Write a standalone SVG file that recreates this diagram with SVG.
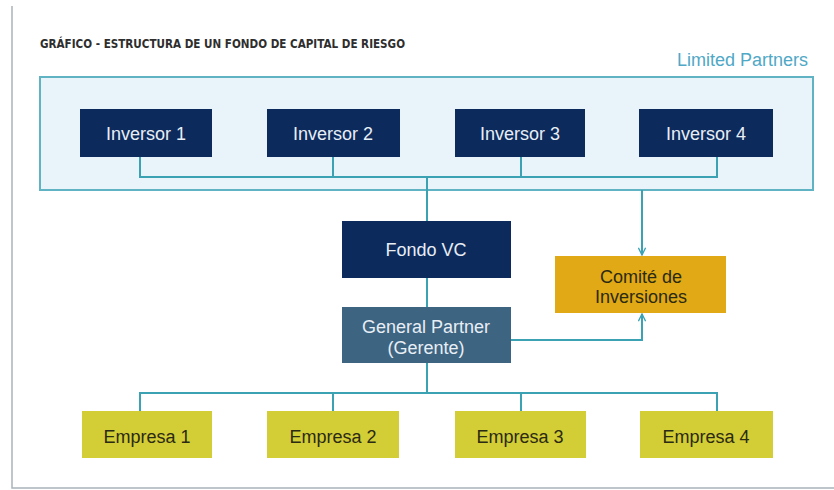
<svg xmlns="http://www.w3.org/2000/svg" width="834" height="490" viewBox="0 0 834 490">
<defs>
<style>
text{font-family:"Liberation Sans",Arial,sans-serif;font-size:18px;text-anchor:middle}
.navy{fill:#0c2b5c}
.gp{fill:#3d6481}
.com{fill:#e0a915}
.emp{fill:#d3cd36}
.wt{fill:#e8eef6}
.dk{fill:#2b2a12}
.conn{fill:none;stroke:#3ba2b4;stroke-width:2}
</style>
<marker id="arr" viewBox="0 0 10 10" refX="9" refY="5" markerWidth="9" markerHeight="9" orient="auto" markerUnits="userSpaceOnUse">
<path d="M1,1 L9,5 L1,9" fill="none" stroke="#3ba2b4" stroke-width="1.5"/>
</marker>
</defs>
<rect x="0" y="0" width="834" height="490" fill="#ffffff"/>
<path d="M12,6 V488 H834" fill="none" stroke="#a9b4ba" stroke-width="1.5"/>
<text x="40" y="48" style="font-family:'DejaVu Sans Condensed','DejaVu Sans',sans-serif;font-stretch:condensed;font-weight:bold;font-size:12px;text-anchor:start;fill:#2e2e2e" textLength="365" lengthAdjust="spacingAndGlyphs">GRÁFICO - ESTRUCTURA DE UN FONDO DE CAPITAL DE RIESGO</text>
<g id="lp">
<rect x="40" y="77" width="773" height="113" fill="#e8f3fa" stroke="#5fb3c3" stroke-width="2"/>
<text x="808" y="66" style="text-anchor:end;fill:#4fa8c6">Limited Partners</text>
</g>
<g id="connectors">
<path class="conn" d="M140,157 V177 H717 V157 M333,157 V177 M521,157 V177"/>
<path class="conn" d="M427,177 V221"/>
<path class="conn" d="M642,190 V255" marker-end="url(#arr)"/>
<path class="conn" d="M427,278 V307"/>
<path class="conn" d="M511,340 H642 V314" marker-end="url(#arr)"/>
<path class="conn" d="M427,363 V393 M140,411 V393 H717 V411 M333,393 V411 M521,393 V411"/>
</g>
<g id="inversor1"><rect class="navy" x="80" y="109" width="132" height="48"/><text class="wt" x="146" y="140">Inversor 1</text></g>
<g id="inversor2"><rect class="navy" x="267" y="109" width="133" height="48"/><text class="wt" x="333" y="140">Inversor 2</text></g>
<g id="inversor3"><rect class="navy" x="455" y="109" width="130" height="48"/><text class="wt" x="520" y="140">Inversor 3</text></g>
<g id="inversor4"><rect class="navy" x="639" y="109" width="134" height="48"/><text class="wt" x="706" y="140">Inversor 4</text></g>
<g id="fondo"><rect class="navy" x="342" y="221" width="169" height="57"/><text class="wt" x="426" y="256">Fondo VC</text></g>
<g id="gp"><rect class="gp" x="342" y="307" width="169" height="56"/><text class="wt" x="426" y="333">General Partner</text><text class="wt" x="426" y="354">(Gerente)</text></g>
<g id="comite"><rect class="com" x="555" y="256" width="171" height="57"/><text class="dk" x="641" y="283">Comité de</text><text class="dk" x="641" y="303">Inversiones</text></g>
<g id="empresa1"><rect class="emp" x="82" y="411" width="130" height="47"/><text class="dk" x="147" y="443">Empresa 1</text></g>
<g id="empresa2"><rect class="emp" x="267" y="411" width="132" height="47"/><text class="dk" x="333" y="443">Empresa 2</text></g>
<g id="empresa3"><rect class="emp" x="455" y="411" width="131" height="47"/><text class="dk" x="520" y="443">Empresa 3</text></g>
<g id="empresa4"><rect class="emp" x="640" y="411" width="133" height="47"/><text class="dk" x="706" y="443">Empresa 4</text></g>
</svg>
